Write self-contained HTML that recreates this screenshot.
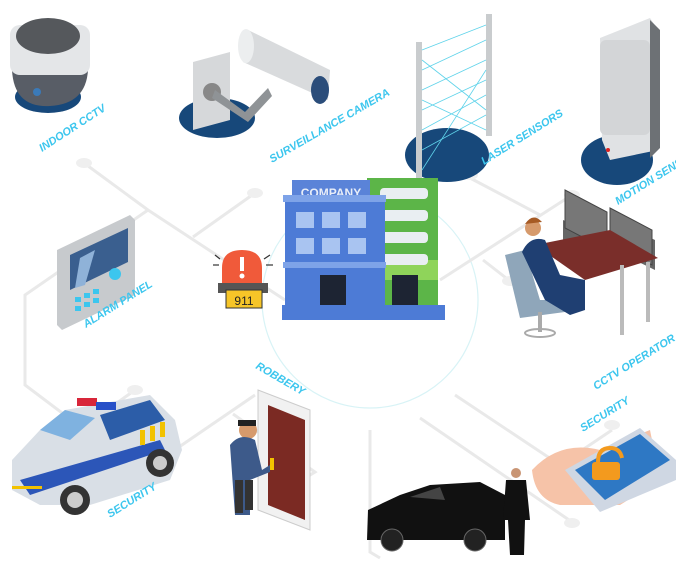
<!DOCTYPE html>
<html><head><meta charset="utf-8"><style>
html,body{margin:0;padding:0;background:#fff;width:676px;height:565px;overflow:hidden}
svg{display:block}
.lbl{font-family:"Liberation Sans",sans-serif;font-weight:bold;font-size:11px;fill:#3cc6ee;font-style:italic}
.ln{stroke:#e9e9e9;stroke-width:3;fill:none}
.dot{fill:#efefef}
</style></head><body>
<svg width="676" height="565" viewBox="0 0 676 565" xmlns="http://www.w3.org/2000/svg">
<circle cx="370" cy="300" r="108" fill="none" stroke="#d8f3f6" stroke-width="1.2"/>
<polyline class="ln" points="84,163 148,210 285,300"/>
<polyline class="ln" points="255,193 193,237"/>
<polyline class="ln" points="148,210 25,295 25,385 82,428 135,390"/>
<polyline class="ln" points="470,178 540,215"/>
<polyline class="ln" points="572,195 440,280"/>
<polyline class="ln" points="483,260 510,281"/>
<polyline class="ln" points="455,395 560,465 612,430"/>
<polyline class="ln" points="420,418 572,522"/>
<polyline class="ln" points="255,395 160,460"/>
<polyline class="ln" points="233,414 315,472 297,483"/>
<polyline class="ln" points="370,430 370,552 380,558"/>
<g class="dot"><ellipse cx="84" cy="163" rx="8" ry="5"/><ellipse cx="255" cy="193" rx="8" ry="5"/><ellipse cx="470" cy="175" rx="8" ry="5"/><ellipse cx="572" cy="195" rx="8" ry="5"/><ellipse cx="510" cy="281" rx="8" ry="5"/><ellipse cx="135" cy="390" rx="8" ry="5"/><ellipse cx="612" cy="425" rx="8" ry="5"/><ellipse cx="572" cy="523" rx="8" ry="5"/><ellipse cx="160" cy="460" rx="8" ry="5"/><ellipse cx="297" cy="483" rx="8" ry="5"/></g>

<ellipse cx="48" cy="97" rx="33" ry="16" fill="#17487a"/>
<path d="M12,70 Q14,108 50,106 Q86,104 88,70 Z" fill="#585d66"/>
<rect x="10" y="25" width="80" height="50" rx="10" fill="#e4e6e8"/>
<ellipse cx="48" cy="36" rx="32" ry="18" fill="#55585c"/>
<circle cx="37" cy="92" r="4" fill="#3b7ab8"/>
<text class="lbl" transform="translate(42,152) rotate(-33)">INDOOR CCTV</text>

<ellipse cx="217" cy="118" rx="38" ry="20" fill="#17487a"/>
<polygon points="193,62 230,52 230,120 193,130" fill="#d6d8da"/>
<circle cx="212" cy="92" r="9" fill="#888"/>
<polygon points="215,90 245,112 268,88 272,96 248,122 212,98" fill="#8f9396"/>
<polygon points="248,30 330,70 328,100 243,62" fill="#d9dbdd"/>
<ellipse cx="246" cy="46" rx="8" ry="17" fill="#eceeef"/>
<ellipse cx="320" cy="90" rx="9" ry="14" fill="#2b4d7a"/>
<text class="lbl" transform="translate(272,163) rotate(-30)">SURVEILLANCE CAMERA</text>

<ellipse cx="447" cy="155" rx="42" ry="27" fill="#17487a"/>
<rect x="416" y="42" width="6" height="145" fill="#c9ccce"/>
<rect x="486" y="14" width="6" height="122" fill="#c9ccce"/>
<g stroke="#5fd3ea" stroke-width="0.8">
<line x1="422" y1="50" x2="486" y2="25"/><line x1="422" y1="70" x2="486" y2="40"/><line x1="422" y1="90" x2="486" y2="60"/><line x1="422" y1="110" x2="486" y2="80"/><line x1="422" y1="130" x2="486" y2="95"/><line x1="422" y1="150" x2="486" y2="115"/><line x1="422" y1="60" x2="486" y2="110"/><line x1="422" y1="100" x2="486" y2="130"/><line x1="422" y1="170" x2="486" y2="70"/></g>
<text class="lbl" transform="translate(484,165) rotate(-32)">LASER SENSORS</text>

<ellipse cx="617" cy="160" rx="36" ry="25" fill="#17487a"/>
<polygon points="600,38 650,18 658,30 658,150 610,160 602,140" fill="#e0e2e4"/>
<rect x="600" y="40" width="50" height="95" rx="6" fill="#d3d5d7"/>
<polygon points="650,20 660,30 660,148 650,158" fill="#6d7175"/>
<circle cx="608" cy="150" r="2" fill="#d22"/>
<text class="lbl" transform="translate(618,205) rotate(-32)">MOTION SENS</text>

<rect x="367" y="178" width="71" height="130" fill="#5cb548"/>
<rect x="380" y="260" width="58" height="20" fill="#8fd45a"/>
<g fill="#e9eef2"><rect x="380" y="188" width="48" height="11" rx="4"/><rect x="380" y="210" width="48" height="11" rx="4"/><rect x="380" y="232" width="48" height="11" rx="4"/><rect x="380" y="254" width="48" height="11" rx="4"/></g>
<rect x="292" y="180" width="78" height="20" fill="#5a83d8"/>
<text x="331" y="197" text-anchor="middle" font-family="Liberation Sans,sans-serif" font-weight="bold" font-size="12" fill="#e8eef8">COMPANY</text>
<rect x="285" y="197" width="100" height="110" fill="#4d7bd6"/>
<rect x="283" y="195" width="103" height="7" fill="#7ea3e8"/>
<rect x="283" y="262" width="103" height="6" fill="#7ea3e8"/>
<g fill="#a9c4f1"><rect x="296" y="212" width="18" height="16"/><rect x="322" y="212" width="18" height="16"/><rect x="348" y="212" width="18" height="16"/><rect x="296" y="238" width="18" height="16"/><rect x="322" y="238" width="18" height="16"/><rect x="348" y="238" width="18" height="16"/></g>
<rect x="320" y="275" width="26" height="32" fill="#1d2433"/>
<rect x="392" y="275" width="26" height="32" fill="#1d2433"/>
<rect x="282" y="305" width="163" height="15" fill="#4d7bd6"/>

<path d="M222,285 L222,268 Q222,250 242,250 Q262,250 262,268 L262,285 Z" fill="#f05a3a"/>
<rect x="240" y="257" width="4" height="14" fill="#fff"/><circle cx="242" cy="276" r="2.5" fill="#fff"/>
<rect x="218" y="283" width="50" height="10" fill="#555"/>
<rect x="226" y="290" width="36" height="18" fill="#f6c528" stroke="#333" stroke-width="1"/>
<text x="244" y="305" text-anchor="middle" font-family="Liberation Sans,sans-serif" font-size="12" fill="#222">911</text>
<g stroke="#333" stroke-width="1.2"><line x1="213" y1="265" x2="219" y2="265"/><line x1="266" y1="265" x2="273" y2="265"/><line x1="215" y1="255" x2="220" y2="259"/><line x1="270" y1="255" x2="264" y2="259"/></g>

<polygon points="57,250 130,215 135,220 135,295 62,330 57,325" fill="#c7cacd"/>
<polygon points="70,255 128,228 128,262 70,290" fill="#3a5f8f"/>
<polygon points="80,258 95,250 85,285 75,288" fill="#8fb2d8"/>
<g fill="#3cc6ee"><rect x="75" y="297" width="6" height="5"/><rect x="84" y="293" width="6" height="5"/><rect x="93" y="289" width="6" height="5"/><rect x="75" y="306" width="6" height="5"/><rect x="84" y="302" width="6" height="5"/><rect x="93" y="298" width="6" height="5"/><circle cx="115" cy="274" r="6"/></g>
<text class="lbl" transform="translate(86,328) rotate(-32)">ALARM PANEL</text>

<polygon points="563,220 608,240 608,270 563,250" fill="#666"/>
<polygon points="610,218 655,240 655,270 610,248" fill="#666"/>
<polygon points="565,190 607,212 607,250 565,228" fill="#777" stroke="#444"/>
<polygon points="610,208 652,230 652,265 610,244" fill="#777" stroke="#444"/>
<polygon points="535,245 610,230 658,258 585,280" fill="#7a2e2a"/>
<rect x="620" y="265" width="4" height="70" fill="#bbb"/><rect x="646" y="262" width="4" height="60" fill="#bbb"/>
<polygon points="505,255 525,250 540,300 560,300 565,312 520,318" fill="#8fa6ba"/>
<rect x="538" y="312" width="4" height="20" fill="#aaa"/>
<ellipse cx="540" cy="333" rx="15" ry="4" fill="none" stroke="#aaa" stroke-width="2"/>
<path d="M522,252 Q530,235 545,240 L560,275 L585,280 L585,310 L570,315 L545,300 Z" fill="#1f3f72"/>
<circle cx="533" cy="228" r="8" fill="#d69a6c"/><path d="M525,224 Q533,212 542,222 Z" fill="#a65a24"/>
<text class="lbl" transform="translate(596,390) rotate(-32)">CCTV OPERATOR</text>

<path d="M12,460 L40,430 L65,410 L150,395 L175,420 L182,450 L170,480 L90,505 L40,505 L12,490 Z" fill="#d9dfe6"/>
<polygon points="40,430 65,410 95,418 70,440" fill="#7fb2e0"/>
<polygon points="100,415 150,400 165,420 110,440" fill="#2c5da8"/>
<polygon points="20,480 160,440 165,450 30,495" fill="#2c56b8"/>
<g fill="#f2c200"><rect x="140" y="430" width="5" height="15"/><rect x="150" y="426" width="5" height="15"/><rect x="160" y="422" width="5" height="15"/><rect x="12" y="486" width="30" height="3"/></g>
<rect x="77" y="398" width="20" height="8" fill="#d8263a"/><rect x="96" y="402" width="20" height="8" fill="#2750c8"/>
<circle cx="75" cy="500" r="15" fill="#333"/><circle cx="75" cy="500" r="8" fill="#ccc"/>
<circle cx="160" cy="463" r="14" fill="#333"/><circle cx="160" cy="463" r="7" fill="#ccc"/>
<text class="lbl" transform="translate(110,518) rotate(-32)">SECURITY</text>

<polygon points="258,390 310,410 310,530 258,510" fill="#f1f1f1" stroke="#ccc"/>
<polygon points="268,405 305,420 305,520 268,505" fill="#7b2a23"/>
<rect x="270" y="458" width="4" height="12" fill="#f2c200"/>
<circle cx="248" cy="430" r="9" fill="#d69a6c"/><rect x="238" y="420" width="18" height="6" fill="#222"/>
<path d="M230,445 Q240,432 255,440 L262,470 L270,465 L270,472 L250,480 L250,515 L235,515 Z" fill="#3d5a8a"/>
<rect x="235" y="480" width="8" height="33" fill="#333"/><rect x="245" y="480" width="8" height="30" fill="#333"/>
<text class="lbl" transform="translate(255,368) rotate(30)">ROBBERY</text>

<path d="M367,540 L368,510 L400,495 L430,485 L480,482 L505,495 L505,540 Z" fill="#111"/>
<polygon points="410,497 440,487 445,500" fill="#444"/>
<circle cx="392" cy="540" r="11" fill="#222" stroke="#666"/><circle cx="475" cy="540" r="11" fill="#222" stroke="#666"/>
<circle cx="516" cy="473" r="5" fill="#c99574"/>
<path d="M506,480 L526,480 L530,520 L525,520 L524,555 L510,555 L508,520 L503,520 Z" fill="#111"/>

<path d="M532,470 Q560,440 600,450 L650,430 L660,480 L620,505 L560,505 Q535,500 532,470 Z" fill="#f6c3a8"/>
<polygon points="565,470 640,428 676,460 676,480 600,512" fill="#cfd7e3"/>
<polygon points="575,470 640,434 670,460 605,500" fill="#2e78c4"/>
<rect x="592" y="462" width="28" height="18" rx="3" fill="#f39a1e"/>
<path d="M598,462 Q598,448 610,448 Q620,448 622,458" fill="none" stroke="#f39a1e" stroke-width="4"/>
<text class="lbl" transform="translate(583,432) rotate(-32)">SECURITY</text>
</svg>
</body></html>
